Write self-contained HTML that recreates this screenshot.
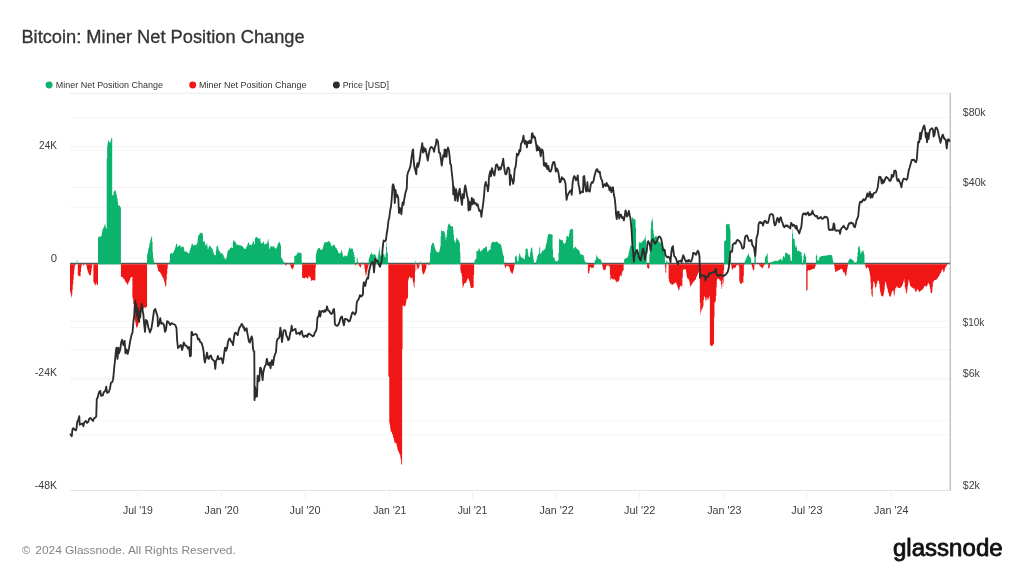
<!DOCTYPE html>
<html lang="en">
<head>
<meta charset="utf-8">
<title>Bitcoin: Miner Net Position Change</title>
<style>
html,body{margin:0;padding:0;background:#fff;}
body{width:1024px;height:576px;overflow:hidden;font-family:"Liberation Sans",sans-serif;}
svg{display:block;position:absolute;left:0;top:0;}
text{font-family:"Liberation Sans",sans-serif;}
.title{font-size:18.3px;fill:#333;stroke:#333;stroke-width:0.3;}
.legend text{font-size:9.1px;fill:#333;}
.axis text{font-size:10px;fill:#3c3c3c;}
.grid line{stroke:#f6f6f6;stroke-width:1.1;}
.ticks line{stroke:#f1f1f1;stroke-width:1;}
.footer{font-size:11.2px;fill:#858585;}
.logo{font-size:23px;fill:#111;stroke:#111;stroke-width:0.8;stroke-linejoin:round;}
</style>
</head>
<body>
<svg width="1024" height="576" viewBox="0 0 1024 576">
<rect width="1024" height="576" fill="#ffffff"/>
<text class="title" x="21.4" y="42.7" textLength="283.3" lengthAdjust="spacingAndGlyphs">Bitcoin: Miner Net Position Change</text>
<g class="legend">
<circle cx="49.1" cy="85" r="3.45" fill="#0cb36d"/>
<text x="55.8" y="88.3" textLength="107.1" lengthAdjust="spacingAndGlyphs">Miner Net Position Change</text>
<circle cx="192.7" cy="85" r="3.45" fill="#f01616"/>
<text x="199.1" y="88.3" textLength="107.4" lengthAdjust="spacingAndGlyphs">Miner Net Position Change</text>
<circle cx="336.4" cy="85" r="3.45" fill="#2e2e2e"/>
<text x="342.7" y="88.3" textLength="46.2" lengthAdjust="spacingAndGlyphs">Price [USD]</text>
</g>
<g class="grid"><line x1="70" x2="950.25" y1="117.5" y2="117.5"/><line x1="70" x2="950.25" y1="146.5" y2="146.5"/><line x1="70" x2="950.25" y1="150.4" y2="150.4"/><line x1="70" x2="950.25" y1="187.5" y2="187.5"/><line x1="70" x2="950.25" y1="207.4" y2="207.4"/><line x1="70" x2="950.25" y1="257.7" y2="257.7"/><line x1="70" x2="950.25" y1="321.1" y2="321.1"/><line x1="70" x2="950.25" y1="327.6" y2="327.6"/><line x1="70" x2="950.25" y1="350.1" y2="350.1"/><line x1="70" x2="950.25" y1="378" y2="378"/><line x1="70" x2="950.25" y1="379.4" y2="379.4"/><line x1="70" x2="950.25" y1="420.8" y2="420.8"/><line x1="70" x2="950.25" y1="434.6" y2="434.6"/></g>
<line x1="70" x2="950.25" y1="93.25" y2="93.25" stroke="#ebebeb" stroke-width="1"/>
<line x1="70" x2="950.25" y1="490.5" y2="490.5" stroke="#e4e4e4" stroke-width="1.1"/>
<g class="ticks"><line x1="137.9" x2="137.9" y1="490.5" y2="498.5"/><line x1="221.6" x2="221.6" y1="490.5" y2="498.5"/><line x1="305.1" x2="305.1" y1="490.5" y2="498.5"/><line x1="389.7" x2="389.7" y1="490.5" y2="498.5"/><line x1="472.5" x2="472.5" y1="490.5" y2="498.5"/><line x1="556.6" x2="556.6" y1="490.5" y2="498.5"/><line x1="639.7" x2="639.7" y1="490.5" y2="498.5"/><line x1="724.4" x2="724.4" y1="490.5" y2="498.5"/><line x1="806.9" x2="806.9" y1="490.5" y2="498.5"/><line x1="891.25" x2="891.25" y1="490.5" y2="498.5"/></g>
<line x1="70" x2="950.25" y1="263.5" y2="263.5" stroke="#555555" stroke-width="1.4"/>
<path d="M76.88,264.25V259.8H77.34V263.7H77.8V264.25ZM85.14,264.25V263.13H85.6V263.4H86.05V264.25ZM92.94,264.25V263.03H93.39V264.25ZM97.98,264.25V237.48H98.44V236.67H98.9V236.75H99.36V236.86H99.82V236.21H100.27V236.63H100.73V236.3H101.19V235.9H101.65V233.34H102.11V231.12H102.57V228.91H103.03V228.17H103.49V227.41H103.94V226.35H104.4V224.71H104.86V223.72H105.32V226.22H105.78V228.01H106.24V228.65H106.7V158.83H107.15V146.02H107.61V143H108.07V140.26H108.53V140.69H108.99V141.47H109.45V142.47H109.91V143.02H110.37V141.41H110.82V139.47H111.28V137.93H111.74V138.06H112.2V194.89H112.66V195.49H113.12V194.67H113.58V191.83H114.04V190.8H114.49V190.72H114.95V190.15H115.41V191.28H115.87V192.69H116.33V194.99H116.79V197.45H117.25V199.07H117.71V202.45H118.16V205.73H118.62V205.82H119.08V205.76H119.54V205.3H120V206.63H120.46V207.59H120.92V264.25ZM147.06,264.25V254.69H147.52V252.63H147.98V250.36H148.44V247.91H148.9V246.4H149.36V243.23H149.81V242.14H150.27V239.85H150.73V238.46H151.19V236.84H151.65V236.31H152.11V241.65H152.57V252.46H153.03V258.09H153.48V260.29H153.94V262.19H154.4V264.25ZM169.54,264.25V260.18H170V253.68H170.46V253.17H170.91V253.28H171.37V253.22H171.83V253.54H172.29V253.08H172.75V253.38H173.21V252.09H173.67V251.15H174.13V249.9H174.58V249.24H175.04V247.69H175.5V245.82H175.96V243.76H176.42V243.68H176.88V244.65H177.34V246.93H177.8V246.96H178.25V246.06H178.71V245.67H179.17V245.18H179.63V244.82H180.09V246.02H180.55V246.21H181.01V247.29H181.46V247.46H181.92V246.41H182.38V246.66H182.84V246.01H183.3V246.95H183.76V248.8H184.22V250.78H184.68V252.02H185.13V251.18H185.59V251.68H186.05V251.45H186.51V251.34H186.97V252.4H187.43V252.54H187.89V253.19H188.35V253.23H188.8V253.2H189.26V252.35H189.72V249.95H190.18V248.35H190.64V247.51H191.1V245.61H191.56V244.08H192.01V243.74H192.47V244.11H192.93V245.59H193.39V245.46H193.85V245.07H194.31V244.72H194.77V244.83H195.23V245.48H195.68V244.84H196.14V244.51H196.6V244.58H197.06V243.12H197.52V239.17H197.98V236.58H198.44V234.94H198.9V235H199.35V233.81H199.81V232.56H200.27V233.31H200.73V232.73H201.19V233.11H201.65V232.9H202.11V232.47H202.57V235.02H203.02V241.9H203.48V241.45H203.94V240.88H204.4V241.13H204.86V244.09H205.32V245.3H205.78V245.87H206.23V244.1H206.69V242.82H207.15V245.76H207.61V249.09H208.07V248.85H208.53V247.05H208.99V246.7H209.45V245.1H209.9V245.9H210.36V246.51H210.82V247.32H211.28V247.84H211.74V248.55H212.2V249.25H212.66V250.61H213.12V251.7H213.57V253.26H214.03V254.63H214.49V254.95H214.95V255.1H215.41V255.24H215.87V250.53H216.33V246.78H216.78V245.72H217.24V245.69H217.7V246.48H218.16V248.71H218.62V249.97H219.08V251.07H219.54V251.46H220V252.33H220.45V253.74H220.91V253.09H221.37V253.41H221.83V252.99H222.29V253.45H222.75V254.96H223.21V255.28H223.67V256.71H224.12V257.33H224.58V258.78H225.04V259.17H225.5V258.8H225.96V258.65H226.42V256.68H226.88V254.18H227.33V251.6H227.79V250.21H228.25V250.48H228.71V250.1H229.17V248.88H229.63V248.81H230.09V248.09H230.55V248.09H231V246.92H231.46V247.42H231.92V247.93H232.38V248.1H232.84V241.71H233.3V240.36H233.76V240.22H234.22V241.25H234.67V241.4H235.13V241.68H235.59V243.02H236.05V243.86H236.51V244.51H236.97V245.26H237.43V244.67H237.89V244.76H238.34V244.79H238.8V245.3H239.26V245.27H239.72V245.34H240.18V245.56H240.64V245.49H241.1V245.34H241.55V245.92H242.01V246.02H242.47V246.65H242.93V247.59H243.39V247.3H243.85V248.28H244.31V248.88H244.77V249.11H245.22V248.86H245.68V248.5H246.14V247.02H246.6V246.53H247.06V245.5H247.52V243.68H247.98V242.97H248.44V242.27H248.89V243.57H249.35V244.96H249.81V244.67H250.27V244.96H250.73V244.52H251.19V245.18H251.65V244.79H252.1V243.38H252.56V242.04H253.02V240.97H253.48V241.37H253.94V243.92H254.4V244.19H254.86V238.25H255.32V237.94H255.77V236.61H256.23V237.1H256.69V237.53H257.15V237.35H257.61V237.94H258.07V238.55H258.53V238.63H258.99V238.63H259.44V238.52H259.9V237.71H260.36V241.29H260.82V242.96H261.28V243.19H261.74V243.44H262.2V243.04H262.66V242.72H263.11V241.36H263.57V241.92H264.03V243.67H264.49V244.49H264.95V244.42H265.41V243.39H265.87V244.14H266.32V243.38H266.78V243.28H267.24V241.89H267.7V240.85H268.16V238.98H268.62V243.28H269.08V248.88H269.54V248.46H269.99V247.42H270.45V245.78H270.91V246.01H271.37V246.44H271.83V246.59H272.29V247.24H272.75V246.45H273.21V246.11H273.66V245.87H274.12V247.15H274.58V247.78H275.04V248.69H275.5V248.43H275.96V248.21H276.42V247.49H276.87V246.64H277.33V245.12H277.79V243.38H278.25V243.01H278.71V242.38H279.17V241.64H279.63V242.72H280.09V243.68H280.54V246.02H281V257.72H281.46V258.06H281.92V258.84H282.38V259.82H282.84V260.91H283.3V261.61H283.76V262.43H284.21V263.15H284.67V263.88H285.13V264.25ZM287.88,264.25V264.01H288.34V263.04H288.8V262.71H289.26V263.7H289.72V264.25ZM294.31,264.25V255.9H294.76V255.85H295.22V255.56H295.68V255.64H296.14V254.96H296.6V254.25H297.06V253.52H297.52V251.94H297.98V252.43H298.43V252.71H298.89V252.57H299.35V253.29H299.81V252.84H300.27V252.83H300.73V253.23H301.19V253.16H301.64V262.02H302.1V264.25ZM315.86,264.25V254.15H316.32V252.58H316.78V250.13H317.24V249.8H317.7V248.72H318.16V248.08H318.62V248.48H319.08V247.83H319.53V248.09H319.99V249.65H320.45V249.87H320.91V249.27H321.37V250.02H321.83V249.27H322.29V249.32H322.75V247.46H323.2V245.81H323.66V244.07H324.12V242.76H324.58V242.33H325.04V242.17H325.5V242.47H325.96V242.36H326.41V242.11H326.87V242.17H327.33V241.9H327.79V241.3H328.25V241.08H328.71V240.79H329.17V241.81H329.63V242H330.08V242.75H330.54V244.31H331V245.24H331.46V246.55H331.92V246.33H332.38V246.07H332.84V244.65H333.3V245.34H333.75V244.94H334.21V244.84H334.67V245.55H335.13V247.05H335.59V248.35H336.05V247.83H336.51V248.72H336.96V249.71H337.42V250.38H337.88V251.75H338.34V253.1H338.8V253.13H339.26V253.56H339.72V253.25H340.18V253.26H340.63V251.97H341.09V250.4H341.55V250.5H342.01V252.33H342.47V254.31H342.93V255.99H343.39V257H343.85V256.76H344.3V255.85H344.76V255.22H345.22V255.75H345.68V255.64H346.14V256.11H346.6V256.43H347.06V255.52H347.51V253.66H347.97V252.04H348.43V250.47H348.89V248.25H349.35V247.35H349.81V248.52H350.27V249.12H350.73V248.45H351.18V248.57H351.64V248.46H352.1V248.53H352.56V249H353.02V251.18H353.48V252.2H353.94V254.99H354.4V257.11H354.85V264.25ZM356.69,264.25V257.56H357.15V258.3H357.61V261.37H358.07V264.25ZM362.19,264.25V261.66H362.65V262.38H363.11V263.75H363.57V264.25ZM368.62,264.25V259.28H369.07V257.31H369.53V256.39H369.99V254.95H370.45V253.9H370.91V253.7H371.37V252.6H371.83V253.59H372.28V254.41H372.74V254.83H373.2V255.13H373.66V254.37H374.12V254.03H374.58V254.37H375.04V254.65H375.5V255.64H375.95V256.94H376.41V258.69H376.87V259.58H377.33V259.6H377.79V257.3H378.25V254.07H378.71V250.62H379.17V247.3H379.62V251.27H380.08V254.77H380.54V256.08H381V256.88H381.46V256.32H381.92V255.68H382.38V254.86H382.84V254.68H383.29V253.94H383.75V253.85H384.21V255.54H384.67V257.07H385.13V257.51H385.59V253.74H386.05V241.68H386.5V246.99H386.96V252.04H387.42V253.08H387.88V263.83H388.34V264.25ZM415.4,264.25V260.65H415.86V262.58H416.32V264.25ZM420.45,264.25V260.97H420.91V262.75H421.37V264.25ZM426.41,264.25V264.02H426.87V261.89H427.33V264.25ZM429.62,264.25V260.68H430.08V252.93H430.54V249.6H431V245.46H431.46V244.85H431.92V243.58H432.37V242.7H432.83V242.78H433.29V243.11H433.75V243.93H434.21V245.72H434.67V247.64H435.13V249.08H435.59V250.55H436.04V251.27H436.5V251.55H436.96V252.09H437.42V252.34H437.88V252.24H438.34V252.3H438.8V252.27H439.26V250.52H439.71V248.82H440.17V246.24H440.63V236.26H441.09V230.23H441.55V230.31H442.01V231.15H442.47V231.21H442.93V231.09H443.38V231.22H443.84V231.06H444.3V232.17H444.76V233.76H445.22V237.11H445.68V240.16H446.14V237.54H446.59V234.25H447.05V229.94H447.51V226.74H447.97V224.74H448.43V224.19H448.89V223.96H449.35V223.12H449.81V224.73H450.26V225.58H450.72V226.42H451.18V226.37H451.64V225.96H452.1V226.38H452.56V226.49H453.02V229.74H453.48V234.82H453.93V239.85H454.39V240.63H454.85V242.56H455.31V242.59H455.77V240.19H456.23V238.27H456.69V237.42H457.14V238.64H457.6V239.65H458.06V239.88H458.52V240.68H458.98V241.8H459.44V243.08H459.9V252.45H460.36V264.25ZM474.12,264.25V262.34H474.58V259.63H475.03V259.44H475.49V259.38H475.95V258.42H476.41V251.32H476.87V251.02H477.33V250.94H477.79V251.13H478.25V249.41H478.7V248.62H479.16V248.14H479.62V250.17H480.08V251.21H480.54V251.47H481V251.23H481.46V250.25H481.91V249.84H482.37V249.62H482.83V249.3H483.29V248.16H483.75V248.32H484.21V248H484.67V247.52H485.13V246.71H485.58V246.95H486.04V246.67H486.5V246.31H486.96V250.37H487.42V251.93H487.88V251.2H488.34V250.77H488.8V250.32H489.25V249.52H489.71V249.39H490.17V249.47H490.63V245.85H491.09V243.03H491.55V243.29H492.01V242.34H492.46V241.74H492.92V241.69H493.38V241.63H493.84V241.75H494.3V242.3H494.76V242.51H495.22V241.97H495.68V241.57H496.13V241.73H496.59V241.6H497.05V242.09H497.51V242.35H497.97V243.34H498.43V243.21H498.89V243.2H499.35V244.02H499.8V244.21H500.26V243.86H500.72V244.93H501.18V246.48H501.64V248.38H502.1V250.47H502.56V253.45H503.02V254.91H503.47V256.08H503.93V261.49H504.39V264.25ZM514.94,264.25V256.62H515.4V256.26H515.86V255.77H516.32V255.36H516.78V258.59H517.23V261.2H517.69V261.53H518.15V260.74H518.61V256.53H519.07V253.21H519.53V253.88H519.99V255.05H520.45V256.37H520.9V257.07H521.36V257.2H521.82V257.94H522.28V258.04H522.74V257.99H523.2V258.58H523.66V258.72H524.12V259.05H524.57V259.59H525.03V255.12H525.49V249.03H525.95V248.98H526.41V247.95H526.87V248.48H527.33V249.33H527.79V252.78H528.24V255.62H528.7V256.8H529.16V257.07H529.62V256.98H530.08V252.79H530.54V249.49H531V248.46H531.45V247.03H531.91V247.88H532.37V252.34H532.83V255.52H533.29V259.11H533.75V262.23H534.21V264.25ZM535.12,264.25V263.5H535.58V262.2H536.04V260.94H536.5V259.37H536.96V257.56H537.42V255.83H537.88V254.54H538.34V254.36H538.79V253.47H539.25V246.58H539.71V247.89H540.17V253.63H540.63V253.86H541.09V252.44H541.55V251.7H542V251.62H542.46V250.33H542.92V250.14H543.38V250.52H543.84V249.68H544.3V249.49H544.76V248.98H545.22V247.74H545.67V245.26H546.13V243.39H546.59V241.91H547.05V239.07H547.51V236.08H547.97V234.06H548.43V234.54H548.89V233.78H549.34V234.07H549.8V234.03H550.26V234.33H550.72V234.09H551.18V234.16H551.64V235.11H552.1V234.54H552.55V249.49H553.01V257.41H553.47V257.27H553.93V257.53H554.39V258.74H554.85V259.88H555.31V261.13H555.77V261.28H556.22V261.22H556.68V261.14H557.14V261.2H557.6V260.65H558.06V260.03H558.52V252.79H558.98V238.39H559.44V239.39H559.89V239.14H560.35V240.01H560.81V239.4H561.27V240.18H561.73V240.02H562.19V239.88H562.65V241.19H563.11V242.7H563.56V243.66H564.02V243.56H564.48V243.7H564.94V243.09H565.4V242.59H565.86V239.94H566.32V236.64H566.77V236.1H567.23V236.12H567.69V236.36H568.15V237.4H568.61V235.89H569.07V233.26H569.53V230.6H569.99V229.88H570.44V228.93H570.9V229.29H571.36V228.68H571.82V228.67H572.28V229.09H572.74V230.2H573.2V248.9H573.66V248.12H574.11V247.54H574.57V247.78H575.03V246.77H575.49V246.8H575.95V247.59H576.41V248.61H576.87V248.95H577.32V249.54H577.78V249.59H578.24V249.91H578.7V249.99H579.16V250.92H579.62V252.53H580.08V254.31H580.54V254.35H580.99V254.87H581.45V254.57H581.91V254.34H582.37V254.94H582.83V255.26H583.29V255.23H583.75V257.26H584.21V259.79H584.66V261.45H585.12V261.91H585.58V262.3H586.04V262.72H586.5V263.13H586.96V263.58H587.42V264.02H587.88V264.25ZM594.3,264.25V263.88H594.76V260.31H595.21V259.89H595.67V259.51H596.13V256.59H596.59V254.52H597.05V256.21H597.51V257.62H597.97V258.6H598.43V258.65H598.88V258.72H599.34V258.9H599.8V258.93H600.26V259.16H600.72V260.12H601.18V260.95H601.64V264.25ZM623.65,264.25V264.09H624.11V259.29H624.57V259.1H625.03V258.86H625.49V258.34H625.95V257.9H626.41V257.89H626.86V257.6H627.32V257.39H627.78V256.24H628.24V254.46H628.7V252.25H629.16V250.18H629.62V248.01H630.08V245.86H630.53V245.62H630.99V246.16H631.45V245.73H631.91V217.64H632.37V217.29H632.83V218.42H633.29V218.87H633.75V218.83H634.2V219.22H634.66V219.17H635.12V219.41H635.58V227.74H636.04V251.58H636.5V252.09H636.96V252.21H637.41V252.24H637.87V252.81H638.33V251.85H638.79V243.28H639.25V241.42H639.71V242.37H640.17V242.67H640.63V242.72H641.08V242.94H641.54V241.75H642V241.34H642.46V241.3H642.92V240.66H643.38V239.65H643.84V239.82H644.3V238.92H644.75V237.63H645.21V235.49H645.67V240.49H646.13V248.16H646.59V262.73H647.05V264.25ZM649.34,264.25V254.5H649.8V246.44H650.26V246.32H650.72V228.46H651.18V221.8H651.63V219.64H652.09V217.96H652.55V221.61H653.01V230.04H653.47V233.79H653.93V237.59H654.39V237.11H654.85V237.17H655.3V236.12H655.76V235.87H656.22V236.43H656.68V236.75H657.14V239.19H657.6V240.91H658.06V240.98H658.52V241.34H658.97V242.13H659.43V241.71H659.89V242.95H660.35V242.35H660.81V242.77H661.27V243.55H661.73V243.78H662.18V245.58H662.64V245.93H663.1V246.48H663.56V247.5H664.02V248.45H664.48V248.45H664.94V264.25ZM666.31,264.25V260.73H666.77V261.11H667.23V261.72H667.69V262.84H668.15V263.96H668.61V264.25ZM724.11,264.25V241.22H724.57V240.93H725.03V240.8H725.49V240.29H725.94V223.76H726.4V224.48H726.86V224.03H727.32V224.41H727.78V223.8H728.24V224.11H728.7V224.38H729.16V223.88H729.61V227.5H730.07V230.15H730.53V256.99H730.99V264.25ZM744.75,264.25V260.89H745.21V259.9H745.67V258.69H746.13V258.18H746.59V257.22H747.04V255.79H747.5V255.24H747.96V254.24H748.42V253.79H748.88V255.4H749.34V256.62H749.8V257.22H750.26V257.49H750.71V258.87H751.17V263.32H751.63V264.25ZM754.38,264.25V256.5H754.84V256.75H755.3V256.18H755.76V264.25ZM764.93,264.25V257.41H765.39V256.68H765.85V256H766.31V255.21H766.77V254.28H767.23V253.3H767.69V260.65H768.15V264.25ZM769.98,264.25V262.78H770.44V262.27H770.9V262.09H771.36V261.97H771.81V261.89H772.27V261.65H772.73V261.49H773.19V261.55H773.65V261.25H774.11V260.97H774.57V260.87H775.03V260.71H775.48V260.79H775.94V260.84H776.4V261.1H776.86V261.13H777.32V261.04H777.78V260.82H778.24V260.24H778.7V260.12H779.15V259.87H779.61V259.43H780.07V258.86H780.53V258.95H780.99V259.63H781.45V260H781.91V260.71H782.36V258.63H782.82V256.53H783.28V255.77H783.74V256.5H784.2V257.79H784.66V256.45H785.12V252.94H785.58V252.77H786.03V253H786.49V252.87H786.95V253.42H787.41V253.61H787.87V254.44H788.33V254.5H788.79V255H789.25V254.64H789.7V254.45H790.16V257.7H790.62V260.75H791.08V260.6H791.54V260.75H792V229.5H792.46V233.8H792.92V238.23H793.37V238.83H793.83V239.03H794.29V239.27H794.75V244H795.21V247.69H795.67V246.62H796.13V245.54H796.58V247.31H797.04V250.82H797.5V251.05H797.96V250.32H798.42V251.11H798.88V251.01H799.34V251.2H799.8V251.75H800.25V252.11H800.71V251.77H801.17V252.44H801.63V256.36H802.09V263.15H802.55V264.25ZM803.01,264.25V260.09H803.47V256.03H803.92V252.73H804.38V253.21H804.84V254.14H805.3V255.66H805.76V257.08H806.22V264.25ZM815.85,264.25V255.95H816.31V253.99H816.77V255.66H817.23V260.28H817.68V260.78H818.14V260.54H818.6V259.47H819.06V258.21H819.52V256.72H819.98V256.93H820.44V256.45H820.9V256.33H821.35V255.97H821.81V255.98H822.27V256.11H822.73V256.03H823.19V255.79H823.65V255.77H824.11V256.15H824.57V255.61H825.02V255.64H825.48V255.43H825.94V255.53H826.4V255.63H826.86V255.22H827.32V255.25H827.78V255.26H828.24V254.96H828.69V255.11H829.15V254.95H829.61V254.86H830.07V255.22H830.53V255.14H830.99V255.12H831.45V254.96H831.9V256.31H832.36V258.29H832.82V260.83H833.28V262.76H833.74V264.25ZM847.96,264.25V261.97H848.42V260.55H848.88V260.06H849.34V259.01H849.79V258.48H850.25V258.54H850.71V258.7H851.17V259.17H851.63V259.46H852.09V259.75H852.55V260.13H853.01V260.52H853.46V261.17H853.92V261.8H854.38V262.39H854.84V263.14H855.3V263.9H855.76V263.58H856.22V262.31H856.67V261H857.13V256.59H857.59V252.03H858.05V247.69H858.51V245.55H858.97V246.54H859.43V246.9H859.89V249.73H860.34V253.3H860.8V253.88H861.26V252.04H861.72V251.4H862.18V251H862.64V250.29H863.1V250.46H863.56V252.38H864.01V254.55H864.47V263.36H864.93V264.25Z" fill="#0cb36d"/>
<path d="M70,264.25V291.57H70.46V293.16H70.92V295.8H71.38V297.8H71.83V294.65H72.29V289.79H72.75V284.54H73.21V279.71H73.67V274.51H74.13V269.47H74.59V266.25H75.05V265.37H75.5V264.52H75.96V264.25ZM77.8,264.25V275.29H78.26V275.17H78.72V276.37H79.17V276.14H79.63V276.13H80.09V276.47H80.55V271.99H81.01V267.72H81.47V265.29H81.93V264.82H82.38V264.25ZM82.84,264.25V264.82H83.3V265.66H83.76V265.59H84.22V264.61H84.68V264.25ZM86.05,264.25V264.91H86.51V266.56H86.97V268.89H87.43V270.98H87.89V272.43H88.35V273.34H88.81V274.45H89.27V275.21H89.72V275.61H90.18V275.31H90.64V274.85H91.1V271.61H91.56V267.91H92.02V265.24H92.48V264.25ZM93.39,264.25V281.95H93.85V282.57H94.31V283.83H94.77V285.08H95.23V285.47H95.69V283.95H96.15V282.6H96.6V283.94H97.06V284.91H97.52V285.17H97.98V264.25ZM120.92,264.25V276.82H121.37V276.71H121.83V277.03H122.29V277.19H122.75V277.46H123.21V278.65H123.67V278.93H124.13V279.21H124.59V280.54H125.04V281.25H125.5V281.71H125.96V282.91H126.42V283.07H126.88V283.68H127.34V285.19H127.8V284.28H128.26V282.87H128.71V281.54H129.17V281.2H129.63V280.27H130.09V278.53H130.55V277.47H131.01V277.14H131.47V276.63H131.92V277.12H132.38V297.46H132.84V299.16H133.3V303.68H133.76V316.38H134.22V318.29H134.68V320.05H135.14V321.91H135.59V324.41H136.05V326.64H136.51V328.22H136.97V327.34H137.43V326.07H137.89V324.72H138.35V322.8H138.81V321.02H139.26V317.76H139.72V314.84H140.18V313H140.64V312.38H141.1V311.26H141.56V310.37H142.02V309.56H142.47V309.05H142.93V309.14H143.39V308.68H143.85V307.33H144.31V307.47H144.77V308.17H145.23V307.77H145.69V307.22H146.14V307.02H146.6V306.63H147.06V264.25ZM156.69,264.25V265.04H157.15V266.64H157.61V268.59H158.07V270.67H158.53V271.25H158.99V271.8H159.45V272.1H159.91V272.25H160.36V273.4H160.82V274.07H161.28V274.99H161.74V275.71H162.2V277.3H162.66V277.53H163.12V278.25H163.58V279.51H164.03V281.35H164.49V282.96H164.95V284.9H165.41V286.95H165.87V285.77H166.33V279.37H166.79V273.88H167.24V268.79H167.7V265.09H168.16V264.25ZM285.13,264.25V265.01H285.59V265.49H286.05V265.48H286.51V264.74H286.97V264.25ZM289.72,264.25V264.58H290.18V265.52H290.64V266.66H291.09V268.01H291.55V269.19H292.01V269.16H292.47V268.78H292.93V268.3H293.39V267.29H293.85V265.1H294.31V264.25ZM302.1,264.25V277.89H302.56V277.77H303.02V277.79H303.48V277.93H303.94V278.49H304.4V278.27H304.86V278.07H305.31V277.32H305.77V277.21H306.23V277.54H306.69V277.88H307.15V278.64H307.61V278.86H308.07V277.75H308.53V275.89H308.98V276.31H309.44V277.31H309.9V277.04H310.36V278.42H310.82V280.23H311.28V281.04H311.74V280.69H312.19V280.12H312.65V280.28H313.11V279.95H313.57V280.46H314.03V280.59H314.49V280.47H314.95V279.51H315.41V267.34H315.86V264.25ZM354.85,264.25V264.64H355.31V265.69H355.77V264.78H356.23V264.25ZM358.07,264.25V264.5H358.52V265.14H358.98V265.86H359.44V266.45H359.9V267.09H360.36V267.73H360.82V266.27H361.28V264.68H361.73V264.25ZM363.57,264.25V264.65H364.03V265.33H364.49V268.89H364.95V272.1H365.4V274.6H365.86V276.62H366.32V274.11H366.78V271.4H367.24V269.16H367.7V267.58H368.16V265.87H368.62V264.25ZM388.34,264.25V376.75H388.8V376.58H389.26V422.83H389.72V425.33H390.17V428.67H390.63V430.9H391.09V432.18H391.55V432.36H392.01V434.06H392.47V434.83H392.93V436.69H393.39V438.19H393.84V440.43H394.3V442.38H394.76V442.5H395.22V443.2H395.68V443.31H396.14V443.34H396.6V446.07H397.05V447.43H397.51V449.76H397.97V450.97H398.43V451.4H398.89V453.06H399.35V453.97H399.81V455.1H400.27V457.54H400.72V459.66H401.18V464.01H401.64V465.07H402.1V349.34H402.56V305.79H403.02V305.67H403.48V305.56H403.94V305.76H404.39V306.44H404.85V306.42H405.31V305.21H405.77V303.31H406.23V300.26H406.69V298.27H407.15V299.04H407.61V297.7H408.06V280.48H408.52V278.53H408.98V276.61H409.44V276.64H409.9V277.45H410.36V278.29H410.82V278.64H411.27V277.84H411.73V277.84H412.19V277.79H412.65V280.49H413.11V283.11H413.57V286.21H414.03V287.69H414.49V281.97H414.94V271.61H415.4V264.25ZM416.32,264.25V265.04H416.78V270.03H417.24V268.71H417.7V267.2H418.16V267.8H418.61V269.03H419.07V266.7H419.53V264.25ZM421.37,264.25V265.73H421.82V270.95H422.28V272.58H422.74V274.1H423.2V274.54H423.66V274.32H424.12V273.35H424.58V271.88H425.04V270.88H425.49V269.36H425.95V268.07H426.41V264.25ZM427.79,264.25V264.74H428.25V265.18H428.71V265.21H429.16V264.68H429.62V264.25ZM460.36,264.25V270.62H460.81V273.43H461.27V272.89H461.73V276.13H462.19V283.59H462.65V288.27H463.11V286.55H463.57V285.58H464.03V283.81H464.48V283.3H464.94V282.68H465.4V283.06H465.86V282.63H466.32V281.29H466.78V280.48H467.24V278.78H467.7V277.87H468.15V279.14H468.61V279.51H469.07V280.69H469.53V283.04H469.99V285.34H470.45V287.52H470.91V288H471.36V288.05H471.82V287.89H472.28V287.7H472.74V287.87H473.2V287.61H473.66V275.01H474.12V264.25ZM504.39,264.25V265.83H504.85V267.15H505.31V268.35H505.77V267.33H506.23V266.17H506.68V265.48H507.14V265.71H507.6V265.97H508.06V266.16H508.52V266.47H508.98V266.65H509.44V268.31H509.9V270.59H510.35V271.81H510.81V272.33H511.27V272.88H511.73V273.55H512.19V274.05H512.65V272.54H513.11V270.95H513.57V269.35H514.02V266.74H514.48V264.78H514.94V264.25ZM534.21,264.25V264.54H534.67V264.53H535.12V264.25ZM587.88,264.25V272.83H588.33V273.54H588.79V273.47H589.25V270.77H589.71V267.16H590.17V266.89H590.63V267.35H591.09V267.75H591.54V267.89H592V267.9H592.46V267.79H592.92V267.83H593.38V267.47H593.84V265.75H594.3V264.25ZM602.09,264.25V265.74H602.55V267.63H603.01V269.29H603.47V270.35H603.93V270.22H604.39V269.74H604.85V269.96H605.31V269.26H605.76V267.53H606.22V266.02H606.68V265.46H607.14V265.42H607.6V265.48H608.06V265.48H608.52V265.68H608.98V266.19H609.43V266.53H609.89V274.83H610.35V280.32H610.81V278.88H611.27V278.31H611.73V278.24H612.19V278.68H612.64V279.66H613.1V279.6H613.56V279.23H614.02V279.32H614.48V279.01H614.94V280.23H615.4V280.54H615.86V282.3H616.31V281.78H616.77V282.41H617.23V281.27H617.69V281.22H618.15V281.71H618.61V281.09H619.07V279.82H619.53V276.55H619.98V275.18H620.44V275.84H620.9V276.43H621.36V275.49H621.82V273.05H622.28V271.45H622.74V271.02H623.2V270.09H623.65V264.25ZM647.05,264.25V266.92H647.51V268.42H647.97V268.44H648.42V268.61H648.88V268.51H649.34V264.25ZM664.94,264.25V267.09H665.4V272.72H665.85V272.6H666.31V264.25ZM668.61,264.25V279.03H669.07V282.03H669.52V282.22H669.98V283.8H670.44V283.62H670.9V283.84H671.36V284.49H671.82V284.67H672.28V285.25H672.74V284.12H673.19V283.94H673.65V283.7H674.11V283.35H674.57V283.44H675.03V282.52H675.49V282.61H675.95V282.83H676.4V284.41H676.86V285.1H677.32V286.89H677.78V287.9H678.24V290.16H678.7V290.45H679.16V288.96H679.62V287.36H680.07V285.47H680.53V286.25H680.99V285.85H681.45V286.52H681.91V286.33H682.37V277.43H682.83V270.24H683.29V269.65H683.74V269.26H684.2V269.25H684.66V269.25H685.12V269.55H685.58V269.38H686.04V272.21H686.5V275.69H686.95V278.83H687.41V277.38H687.87V278.39H688.33V279.36H688.79V280.19H689.25V281.73H689.71V284.73H690.17V287.06H690.62V285.74H691.08V285.47H691.54V284.14H692V283.67H692.46V283.3H692.92V281.93H693.38V281.91H693.84V281.52H694.29V280.66H694.75V280.04H695.21V280.11H695.67V279.06H696.13V277.08H696.59V276.47H697.05V275.26H697.5V274.22H697.96V272.99H698.42V272.41H698.88V271.32H699.34V271.44H699.8V302.67H700.26V314.28H700.72V312.02H701.17V310.43H701.63V308.66H702.09V308.53H702.55V307.39H703.01V305.9H703.47V300.07H703.93V296.33H704.39V296.85H704.84V297.74H705.3V299.79H705.76V301.62H706.22V299.51H706.68V297.02H707.14V298.41H707.6V299.57H708.06V300.27H708.51V297.85H708.97V295.91H709.43V297.84H709.89V344.66H710.35V345.21H710.81V345.69H711.27V346.15H711.72V345.9H712.18V345.67H712.64V345.33H713.1V344.34H713.56V343.69H714.02V317.55H714.48V302.5H714.94V301.98H715.39V300.96H715.85V295.94H716.31V287.32H716.77V280.34H717.23V278.58H717.69V278.56H718.15V278.75H718.61V279.18H719.06V279.23H719.52V280.59H719.98V280.41H720.44V281.11H720.9V284.48H721.36V288.96H721.82V284.23H722.27V279.7H722.73V286.66H723.19V282.25H723.65V270.55H724.11V264.25ZM730.99,264.25V265.33H731.45V267.76H731.91V270.22H732.37V269.14H732.83V268.55H733.28V267.79H733.74V267.97H734.2V267.81H734.66V267.94H735.12V267.8H735.58V266.69H736.04V265.93H736.49V265.3H736.95V265.11H737.41V264.89H737.87V265.01H738.33V265.2H738.79V266.22H739.25V280.97H739.71V282.59H740.16V283.78H740.62V283.91H741.08V284.12H741.54V283.06H742V282.22H742.46V283H742.92V282.79H743.38V276.33H743.83V265.31H744.29V264.45H744.75V264.25ZM751.63,264.25V265.65H752.09V267.33H752.55V269H753.01V270.64H753.47V270.29H753.93V269.28H754.38V264.25ZM758.97,264.25V264.9H759.43V265.66H759.89V266.05H760.35V266.41H760.81V266.89H761.26V267.37H761.72V267.91H762.18V268.31H762.64V267.73H763.1V266.77H763.56V265.87H764.02V265.1H764.48V264.47H764.93V264.25ZM768.15,264.25V268.53H768.6V268.18H769.06V267.89H769.52V266.58H769.98V264.25ZM802.55,264.25V265.39H803.01V264.25ZM806.22,264.25V290.8H806.68V290.45H807.13V289.84H807.59V270.91H808.05V270.12H808.51V270.33H808.97V270.6H809.43V270.58H809.89V270.32H810.35V269.84H810.8V269.75H811.26V269.54H811.72V269.26H812.18V269.02H812.64V269.1H813.1V268.88H813.56V268.8H814.02V268.65H814.47V268.19H814.93V266.75H815.39V265.41H815.85V264.25ZM833.74,264.25V264.54H834.2V266.51H834.66V269.27H835.12V271.63H835.57V271.98H836.03V271.77H836.49V270.9H836.95V270.89H837.41V270.44H837.87V270.76H838.33V270.26H838.79V269.97H839.24V269.97H839.7V269.42H840.16V269.24H840.62V269.07H841.08V268.95H841.54V268.5H842V269.15H842.45V270.4H842.91V271.93H843.37V272.54H843.83V272.71H844.29V272.6H844.75V274.29H845.21V275.46H845.67V276.48H846.12V274.71H846.58V271.5H847.04V268.79H847.5V266.2H847.96V264.25ZM864.93,264.25V265.03H865.39V267.12H865.85V269.06H866.31V268.34H866.77V267.58H867.22V266.98H867.68V267.3H868.14V268.03H868.6V269.03H869.06V270.92H869.52V273.44H869.98V276.34H870.44V282.17H870.89V288.9H871.35V294.17H871.81V296.74H872.27V296.65H872.73V287.51H873.19V281.35H873.65V282.26H874.11V282.62H874.56V284.39H875.02V286.65H875.48V288.61H875.94V286.99H876.4V284.54H876.86V282.64H877.32V281.27H877.78V279.75H878.23V280.88H878.69V281.24H879.15V283.96H879.61V288.44H880.07V291.69H880.53V293.49H880.99V295.42H881.44V295.86H881.9V296.22H882.36V296.58H882.82V296.14H883.28V295H883.74V292.33H884.2V289.92H884.66V285.36H885.11V281.9H885.57V281.63H886.03V283.96H886.49V286.5H886.95V287.64H887.41V289.47H887.87V291.82H888.33V292.89H888.78V294.23H889.24V296.08H889.7V296.6H890.16V296.51H890.62V296.54H891.08V294.3H891.54V292.14H891.99V291.23H892.45V290.4H892.91V290.1H893.37V292.53H893.83V296.28H894.29V294.58H894.75V290.59H895.21V288.36H895.66V287.69H896.12V287.61H896.58V286.2H897.04V286.56H897.5V287.64H897.96V287.48H898.42V288.23H898.88V288.18H899.33V288.11H899.79V287.98H900.25V287.39H900.71V287.39H901.17V286.7H901.63V286.17H902.09V285.59H902.54V283.98H903V282.66H903.46V280.89H903.92V279.25H904.38V282.51H904.84V287.2H905.3V289.06H905.76V291.57H906.21V294.11H906.67V292.82H907.13V289.14H907.59V286.26H908.05V283.14H908.51V279.74H908.97V280.72H909.43V283.1H909.88V285.79H910.34V286.11H910.8V286.51H911.26V286.96H911.72V287.77H912.18V287.48H912.64V288.01H913.1V288.72H913.55V288.5H914.01V288.35H914.47V289.55H914.93V290.65H915.39V291.64H915.85V292.12H916.31V291.28H916.76V289.56H917.22V288.72H917.68V289.78H918.14V290.16H918.6V291.01H919.06V291.86H919.52V292.06H919.98V291.5H920.43V290.84H920.89V290.22H921.35V290.27H921.81V289.88H922.27V289.46H922.73V288.52H923.19V288.45H923.65V287.39H924.1V286.11H924.56V286.07H925.02V285.56H925.48V286.39H925.94V286.67H926.4V286.61H926.86V285.97H927.31V284.81H927.77V283.49H928.23V282.51H928.69V283.92H929.15V284.39H929.61V286.68H930.07V289.31H930.53V292.46H930.98V293.19H931.44V293.41H931.9V291.88H932.36V286.67H932.82V282.52H933.28V281.67H933.74V280.59H934.2V280.23H934.65V280.16H935.11V280.01H935.57V279.69H936.03V279.82H936.49V279.18H936.95V278.91H937.41V277.88H937.87V277.3H938.32V276.83H938.78V276.3H939.24V275.35H939.7V273.9H940.16V273.24H940.62V272.73H941.08V271.58H941.53V270.56H941.99V269.68H942.45V269.1H942.91V270.56H943.37V272.33H943.83V272.35H944.29V270.7H944.75V268.44H945.2V267.4H945.66V266.8H946.12V266.12H946.58V265.4H947.04V264.78H947.5V264.25Z" fill="#f01616"/>
<line x1="950.25" x2="950.25" y1="93.25" y2="490.5" stroke="#b4b4b4" stroke-width="1.2"/>
<path d="M70.5,434.5L71.75,436.25L72.5,429.12L73.38,428.25L74.62,429.5L75.88,430.38L76.5,428.5L77.12,422.25L78.38,419.75L79.25,416.25L79.75,424.75L80.88,424.12L82.5,423.5L83.38,426.25L84,422.88L85.88,421L87.12,422.88L88.38,421.62L89,419.12L90.25,417.88L91.5,419.12L93,421L94,418.5L95.25,417.5L96.25,416.62L96.75,399.12L97.75,397.25L99,392.25L100.25,391L101.12,395.75L102.75,395.38L103.75,392.25L105.25,391L106.25,386.62L107.12,392.88L108.75,392.25L110,388.5L110.88,382.88L112.12,382.25L113,379.75L113.38,377L114.25,367L115,360.75L115.88,350.75L116.5,347.62L117.5,358.88L118.38,347.62L119,353.25L120.25,349.5L121.25,342L122.12,339.75L123.38,345.12L124.62,341L125.5,353.25L126.5,349.5L127.75,353.88L129,348.25L130.25,340.75L131.5,335.12L132.5,332.62L133.38,322L134.25,315.75L135.25,300.62L135.88,311.88L136.38,304.38L137,316.25L137.5,308.12L138.12,320L138.62,311.25L139.12,321.88L139.75,311.88L140.25,317.5L140.88,309.38L141.75,304L142.5,310L143.38,314.38L144,322.5L145,331.88L145.88,320L147.12,321.25L148.38,327.5L150,332.5L151.5,328.12L152.75,320L154,310.62L155.25,309L156.5,313.12L157.5,316.25L158,326.25L159,324.38L160.25,318.12L161.25,323.75L162.75,323.12L164,325L165,331.88L165.88,330L167.12,321.25L168.38,321.88L170.25,325L171.5,323.12L173.38,324L175.25,325L176.5,328.12L177.12,340L178,348.12L179.62,346.25L180.88,345L182.12,350L182.75,347.5L183.75,342.5L185.25,345.62L186.5,345.62L187.75,348.5L189,346.88L190,356.38L190.88,355.75L191.5,332L192,332L193,335.12L194.5,334.5L195.75,333.88L197,335.12L198,339.5L199.25,338.88L200.12,342L201.38,342.62L202.62,346.38L203.5,350.75L204.25,358.88L204.88,362.62L205.75,358.88L207,352.62L208,358.25L208.88,358.88L209.75,356.38L211,355.5L212,358.88L213.25,360.12L214.5,361.38L215.25,368.88L216,360.75L217,359.5L217.88,356L218.88,359.25L220.12,358.88L221,358L222,359.5L222.75,363.25L223.62,358.25L224.5,350.75L225.12,347.62L226,350.75L227,348.25L228,342L228.88,339.25L229.88,338.5L231,341.38L232,342L233,345.12L233.88,338.25L234.75,333.25L235.75,332.62L236.75,333.88L237.75,335.12L238.5,330.75L239.5,327.62L240.75,325.75L241.75,323.88L242.62,325.12L243.25,327.62L243.88,327L244.75,330.75L245.75,328.88L246.62,328.25L247.25,332.62L248,336.38L248.88,341.38L249.88,342.62L250.75,338.88L251.75,336.38L252.38,338.88L253,348.25L253.5,350.75L254.25,351.38L254.38,364.5L254.5,400.12L255.12,387L255.75,397L256.5,389.5L257,396.38L257.62,375.75L258.5,381.38L259.25,380.75L260.12,367.62L261,368.25L261.75,372.62L262.62,380.12L263.25,372.62L264.25,368.25L265.12,365.75L266,364.5L266.75,358.88L267,358.88L268,364.5L268.88,365.12L269.75,362.62L270.5,368.25L271.38,362L272,360.12L273,365.12L273.88,358.88L274.5,355.75L275.5,353.25L276,352L276.75,341.38L277.62,338.88L278.88,338.25L279.5,336.38L280.38,327.62L281,332L282,342L282.75,336.38L283.5,330.75L284.5,330.12L285.5,330.75L286.38,335.75L287.25,337L288.25,340.12L289.25,338.88L290.12,333.25L291,330.75L291.62,325.75L292.38,330.75L293.5,330.12L294.5,329.5L295.5,328.88L296.38,333.88L297.62,333.25L298.88,332.62L299.75,334.5L300.75,332L301.75,331L302.62,335.12L303.88,337L305.12,335.75L306.38,335.5L307.25,337L308.25,333.88L309.25,333.5L310.12,334.5L311.38,335.12L312.62,336.38L313.88,335.75L314.75,332.62L315.75,331.38L316.75,328.25L317.38,318.25L318.25,316.38L318.62,315.88L319.5,310.88L320.25,316.5L321.12,311.5L322.38,310.88L323.62,312.12L324.5,310.25L325.5,311.5L326.5,309L327,306.5L328,310.25L329,310.88L329.88,312.12L331.12,314L332.38,313.38L333.25,309.62L334,309L334.5,314L334.88,324L335.75,325.25L337,325.88L338,325.25L339.25,322.75L340.25,319L341.12,317.12L342,316.5L343,321.5L343.88,325.25L344.88,319L346.12,319L347.38,319.62L348.62,321.5L349.88,320.88L351.12,316.5L352,313.38L352.75,312.12L354,313.38L354.88,314.62L356.12,312.12L356.5,305.25L357,301.5L358,300.25L359,298.38L359.88,295.25L361.12,296.5L362.38,295.25L363,294L363.12,288L363.75,282.38L364.75,283L365.25,286.12L366.25,280.5L367.25,278L368.12,278.62L368.75,273L369.75,268L370.62,264.88L371.5,263L372.5,261.75L373.5,265.5L374,272.38L374.75,263.62L375.25,258.62L376.25,261.12L377.5,260.75L378.75,264.25L380,266.75L381,263L381.88,259.88L382.5,250.5L383.12,243.62L383.75,240.5L385,241.12L386,239.88L386.62,234.25L387.5,229.25L388.5,220.5L389.25,218L390.12,210.5L391,206.75L391.75,198L392.62,185.5L393.25,184.25L394.12,188L394.75,203L395.5,189.88L396.38,196.75L397.25,194.88L398.25,198L399,213L399.75,208L400.5,208.62L401.38,214.25L402,208L402.62,202.38L403.5,204.88L404.25,199.25L405.12,194.25L406,191.12L406.75,188.62L407.25,175.5L408,172.38L408.88,170.5L410.25,166.88L410.88,162.5L411.75,156.25L412.5,150.62L413.12,149.38L413.75,161.25L414.25,166.25L415.25,170L416.25,174.38L416.75,166.25L417.5,163.12L418,166.88L419,163.75L420,157.5L420.88,150.62L421.5,148.12L422.25,143.12L423,152.5L423.75,147.5L424.62,151.25L425.5,148.75L426.5,153.75L427.12,156.88L427.75,160.62L428.75,154.38L429.62,150L430.5,147.5L431.5,146.88L432.75,148.12L433.5,149.38L434,151.88L435,146.88L435.88,144.38L436.5,139.38L437.12,140L438,141.88L438.5,146.88L439,152.5L440,153.12L440.88,158.75L441.75,165.62L442.5,160L443.38,155L444,156.88L444.62,149.38L445.25,156.25L445.88,150L446.5,156.88L447.12,150L448,147.5L449,151.25L449.62,156.25L450.25,163.75L451.12,165L451.5,170L452.5,178.75L453.12,186.25L453.25,194.25L453.88,186.75L454.5,193L455.12,200.5L456,189.25L456.75,193L457.62,201.12L458.5,195.5L459.25,190.5L459.75,188.62L460.75,196.75L462,204.88L462.75,194.25L463.88,198L464.5,189.25L465.25,185.5L466,189.25L467,195.5L468,199.25L468.5,210.5L469.25,201.75L470.12,209.88L470.75,205.5L471.75,198L472.62,204.25L473.5,199.25L474.5,203.62L475.75,203L476.75,205.5L477.62,204.25L478.5,208L479.5,211.12L479.75,210L480.75,211.25L481.38,216.88L482.25,210L483.25,203.12L484.12,195L484.75,186.25L485.75,181.88L486.62,185L487.25,186.25L487.88,191.25L488.75,185L488.75,180L489.38,175L490.25,171.25L491,176.25L491.88,168.12L492.5,170L493.5,173.75L494.38,175.62L495.25,170L496,165L496.88,164.38L497.75,166.25L498.75,170L499.75,167.5L500.62,169.38L501.5,166.25L502.5,163.12L503.25,158.75L504,166.25L504.75,171.25L505.62,174.38L506.5,173.75L507.5,168.12L508.5,167.5L509.38,170L510,185L510.75,175L511.5,178.75L512.25,179.38L513.12,183.75L513.75,181.25L514.75,168.75L515.62,166.88L516.25,161.25L516.88,153.75L517.75,155.62L518.75,153.75L519.38,150L520.25,151.25L521,143.75L521.88,142.5L522.75,139.38L523.5,135.62L524,140.62L524.75,143.75L525.62,140.62L526.25,142.5L526.88,147.5L527.5,141.88L528.5,143.12L529.38,140.62L530.25,143.12L531.25,142.5L531.88,133.75L532.5,133.12L533.25,137.5L534,136.25L535,137.5L535.62,141.25L536.25,145L536.88,150.62L537.5,145.62L538.5,150L539.38,147.5L540,151.25L540.75,156.25L541.5,149.38L542.5,150L543.12,152.5L543.88,165.38L544.75,162.88L545.5,166.62L546.38,163.5L547.25,169.12L548.25,166L549.25,171L550.5,171.62L551.38,169.75L552.25,165.38L553.25,162.25L554.25,162L555.12,165.38L555.75,171.62L556.75,168.5L557.62,169.75L558.5,172.88L559.25,178.5L559.75,182.25L560.75,181.62L561.75,177.25L562.62,179.12L563.5,178.5L564.5,180.38L565.5,183.5L566,192.25L566.62,199.75L567.25,196L568.25,194.12L569.25,192.25L570.12,191L571,190.38L571.75,194.75L572.62,182.88L573.5,177.88L574.25,176L575.12,177.25L576,180.38L577,178.5L577.75,175.38L578.5,184.75L579.25,187.25L580.12,193.5L581,192.25L582,191.62L583,192.25L583.5,176.62L584.25,176L585.12,185.38L586,191L586.75,191.62L587.38,182.25L588,189.75L588.88,191L589.75,191.62L590.75,184.75L591.75,182.25L592.62,182.88L593.5,181L594.5,176L595.5,172.25L596.38,169.5L597.25,169.12L598,171.62L598.88,172.25L599.75,171.62L600.5,176.62L601.38,179.12L602.25,181L603,187.25L603.88,185.38L604.75,184.12L605.75,186L606.62,182.88L607.62,186L608.5,185.38L609.5,190.38L610.5,187.25L611.38,192.25L612.25,188.5L613,187.25L613.88,194.75L614.75,198.5L615.5,206L616,214.12L616.75,219.12L617.62,212.25L618.5,211.62L619.25,218.5L620.12,214.75L621,214.75L622,217.88L623,217.25L623.88,220.38L624.75,216L625.5,210.38L626.38,212.88L627,216.62L628,214.75L628.88,211L629.75,215.38L630.5,218.5L631.38,227.25L632.5,246.75L633.25,253L633.88,261.75L634.5,255.5L635.38,253L636.25,251.12L637,249.88L637.88,253L638.75,256.12L639.75,259.25L640.75,260.5L641.62,255.5L642.5,250.5L643.25,248.62L644.12,253L645,259.88L645.75,254.25L646.62,252.38L647.5,243L648.25,241.12L649.12,243L650,245.5L650.75,250.5L651.62,240.5L652.5,239.25L653.5,240.5L654.5,243L655.38,243.62L656.25,241.75L657.25,240.5L658.25,237.38L659.5,236.5L660.38,237.38L661.25,239.25L662.25,244.25L662.88,250.5L663.75,249.88L664.75,249.88L665.38,254.88L666.25,256.12L667.25,257.38L668.5,256.75L669.75,258L670.5,262.38L671.25,253L672,248L672.88,246.12L673.5,251.75L674.12,256.12L675,256.75L676,258.62L677,261.75L677.88,264.25L678.75,261.12L679.75,261.12L680.75,260.5L681.62,262.38L682.5,258L683.25,255.25L684.12,257.38L685,259.88L686,261.75L687,260.5L687.88,261.75L688.75,259.88L689.75,261.12L690.75,261.75L691.62,260.5L692.5,257.38L693.25,253L694.12,253L695,253.62L696,254.88L697,252.38L697.88,250.75L698.75,252.38L699.5,256.75L699.75,265.5L700,278L701,275.5L702.25,275.5L704,275.5L704,275.5L705,276.12L705.5,280.5L706.5,277.38L707.5,276.12L708.38,276.75L709.25,273L710.25,273.62L711.25,273L712.12,272.38L713,272.38L714,271.75L715,271.75L715.88,269L716.5,274.25L717.5,275.5L718.38,274.88L719.25,276.12L720.25,275.25L721.5,274.88L722.75,276.12L724,275.75L725.25,274.88L726.5,273.62L727.75,271.75L728.75,268L729.62,259.25L730.25,252.38L731.25,251.12L732.12,251.75L732.75,244.88L733.75,243.62L734.62,243L735.5,243.62L736.5,241.12L737.5,239.88L738.38,240.5L739.25,241.12L740.25,242.38L741.25,244.25L742.12,248L743,248.62L744,247.38L744.62,240.5L745.25,236.75L746.25,235.75L747.12,235.5L748,238L748.75,240.5L749.62,241.12L750.5,240.5L751.5,239.88L752.12,244.25L753,246.12L754,247.38L754.62,251.75L755.25,256.12L755.88,248L756.5,238L757.12,236.12L757.75,234.25L758.38,228L758.38,225L759.25,222.5L760.12,221.88L761,223.12L762,222.5L763,225.62L763.88,222.5L764.75,220.62L765.75,221.25L766.75,223.12L767.62,222.5L768,222.88L769,219.12L769.88,214.75L771.12,214.12L772.38,214.12L773.25,216L774,222.25L774.88,225.38L775.75,224.12L776.5,221L777.38,217.88L778.25,219.12L779,222.25L779.88,218.5L780.75,217.25L781.75,221L782.75,223.5L783.62,226.62L784.5,227.25L785.5,225.38L786.5,226L787.38,225.38L788.25,226.62L789.25,227.25L790.25,228.5L791.12,222.88L792,224.12L793,226L794,224.75L794.88,226L795.75,228.5L796.5,226L797.38,229.75L798.25,231L799.25,233.5L800.25,229.75L801.12,227.88L801.75,223.5L802.38,216L803.25,213.5L804.25,214.12L805.25,213.25L806.12,214.75L807,213.5L808,212.25L809,215.38L809.88,214.12L810.75,214.75L811.75,212.88L812.5,210.75L813.25,214.12L814.25,214.75L815.25,216L816.12,216.25L817,216L817.75,218.5L818.62,218.25L819.88,217.88L820.75,217L821.75,218.5L822.75,218.75L823.62,218.25L824.5,216.62L825.5,217.25L826.5,217L827.38,217.88L828,219.75L828.62,228.5L829.25,230L830.5,229.75L831.75,229.5L832.75,230L833.62,223.5L834.25,224.12L834.88,229.75L836.12,230.75L837.38,230.38L838.62,230.75L839.5,230.38L840,233.75L840.75,229.75L841.75,227.88L842.75,227.25L843.62,225.75L844.5,227.25L845.5,228.5L846.5,229.5L847.38,228.5L848.25,225.38L849.25,223.25L850.25,223.5L851.12,222.5L852,223.25L853,223.5L854,226.62L854.88,227.25L855.75,224.12L856.5,220.38L857.38,218.5L858.25,216L859,207.25L859.88,202.25L860.75,201.62L861.75,202.25L862.75,200.38L863.62,199.12L864.5,200.38L865.5,199.5L866.5,196.62L867.38,193.5L868,196.62L869,194.75L869.88,192L870.5,197.88L871.5,194.12L872.38,197.25L873.25,194.12L874.25,192.88L875.25,192.5L876.12,192L877,189.75L877.75,187.25L878.25,183.5L879,177.25L879.75,176.62L880.75,177.25L881.75,183.5L882.62,179.75L883.5,182.88L884.5,181L885.5,177.88L886.38,177L887.25,177.88L888.25,178.5L889.25,180.38L890.12,181L891,179.75L891.75,174.75L892.62,177.25L893.5,176L894.25,171L895.12,170.38L896,171.62L896.75,178.5L897.62,181L898.5,179.12L899.5,181.62L900.5,183.5L901.38,187.25L902,183.5L903,179.75L903.88,178.5L905.12,179.12L906.38,179.75L907.25,179.12L908,174.75L908.88,169.75L909.75,167.25L910.75,163.5L911.75,160L913,159.75L914.25,160L915.12,161.62L916,162.25L916.75,159.75L917.62,148.5L918.25,141.62L919.25,142.25L920.12,132.88L920.75,139.12L921.75,132.25L922.62,129.75L923.5,126.62L924.25,125.38L925.12,129.75L925.75,137.25L926.38,132.88L927,142.25L928,133.5L928.5,139.12L929.5,132.25L930.12,129.75L931,129.12L932,128.25L933,129.75L933.62,136.62L934.5,134.75L935.5,127.88L936.38,127.5L937.25,129.12L938,131L938.88,136L939.75,139.12L940.5,142.88L941.38,139.12L942.25,135.38L943,134.75L943.88,137.88L944.75,139.12L945.75,139.75L946.75,148.5L947.62,140.38L948.5,139.12L949.5,141" fill="none" stroke="#2c2c2c" stroke-width="1.85" stroke-linejoin="round" stroke-linecap="round"/>
<g class="axis"><text x="39.1" y="148.6" textLength="17.9" lengthAdjust="spacingAndGlyphs">24K</text><text x="50.7" y="262.4" textLength="6.3" lengthAdjust="spacingAndGlyphs">0</text><text x="34.9" y="376.2" textLength="22.1" lengthAdjust="spacingAndGlyphs">-24K</text><text x="34.85" y="489.1" textLength="22.15" lengthAdjust="spacingAndGlyphs">-48K</text><text x="962.8" y="115.6" textLength="22.8" lengthAdjust="spacingAndGlyphs">$80k</text><text x="962.8" y="185.6" textLength="23.1" lengthAdjust="spacingAndGlyphs">$40k</text><text x="962.8" y="325.7" textLength="21.5" lengthAdjust="spacingAndGlyphs">$10k</text><text x="962.8" y="377.3" textLength="17.1" lengthAdjust="spacingAndGlyphs">$6k</text><text x="962.8" y="488.6" textLength="17" lengthAdjust="spacingAndGlyphs">$2k</text><text x="123" y="513.5" textLength="29.8" lengthAdjust="spacingAndGlyphs">Jul '19</text><text x="204.6" y="513.5" textLength="34" lengthAdjust="spacingAndGlyphs">Jan '20</text><text x="289.6" y="513.5" textLength="31" lengthAdjust="spacingAndGlyphs">Jul '20</text><text x="373.15" y="513.5" textLength="33.1" lengthAdjust="spacingAndGlyphs">Jan '21</text><text x="457.65" y="513.5" textLength="29.7" lengthAdjust="spacingAndGlyphs">Jul '21</text><text x="539.4" y="513.5" textLength="34.4" lengthAdjust="spacingAndGlyphs">Jan '22</text><text x="624.1" y="513.5" textLength="31.2" lengthAdjust="spacingAndGlyphs">Jul '22</text><text x="707.2" y="513.5" textLength="34.4" lengthAdjust="spacingAndGlyphs">Jan '23</text><text x="791.27" y="513.5" textLength="31.25" lengthAdjust="spacingAndGlyphs">Jul '23</text><text x="874.05" y="513.5" textLength="34.4" lengthAdjust="spacingAndGlyphs">Jan '24</text></g>
<text class="footer" y="554.2"><tspan x="21.9">© </tspan><tspan x="35.3" textLength="200.4" lengthAdjust="spacingAndGlyphs">2024 Glassnode. All Rights Reserved.</tspan></text>
<text class="logo" x="892.9" y="556.2" textLength="109.8" lengthAdjust="spacingAndGlyphs">glassnode</text>
</svg>
</body>
</html>
